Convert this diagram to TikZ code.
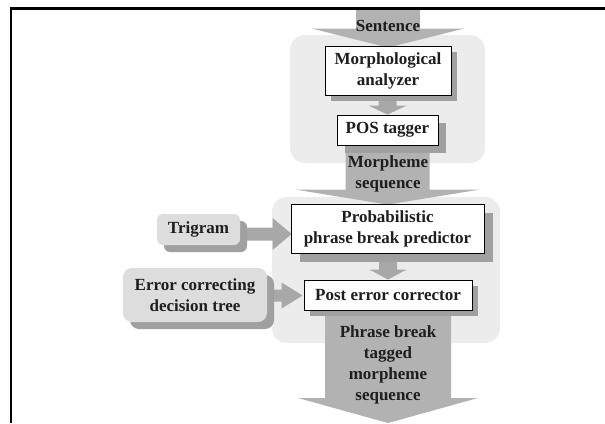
\documentclass[tikz,border=0pt]{standalone}
\usepackage{fontspec}
\setmainfont{Liberation Serif}
\usetikzlibrary{calc,shadows}
\pgfdeclarelayer{bg}
\pgfdeclarelayer{arr}
\pgfsetlayers{bg,arr,main}
\definecolor{regiongray}{HTML}{ECECEC}
\definecolor{biggray}{HTML}{B2B2B2}
\definecolor{smallgray}{HTML}{A8A8A8}
\definecolor{srcgray}{HTML}{DDDDDD}
\definecolor{shadegray}{HTML}{A0A0A0}
\definecolor{inkgray}{HTML}{1E1E1E}
% vertical fat arrow: #1 start, #2 tip, #3 shaft half, #4 head half, #5 head length, #6 style
\newcommand\vfat[6]{%
  \fill[#6] let \p1=(#1), \p2=(#2) in
    (\x2-#3pt,\y1) -- (\x2+#3pt,\y1) -- (\x2+#3pt,\y2+#5pt) -- (\x2+#4pt,\y2+#5pt)
    -- (\x2,\y2) -- (\x2-#4pt,\y2+#5pt) -- (\x2-#3pt,\y2+#5pt) -- cycle;}
% horizontal fat arrow pointing right
\newcommand\hfat[6]{%
  \fill[#6] let \p1=(#1), \p2=(#2) in
    (\x1,\y2-#3pt) -- (\x2-#5pt,\y2-#3pt) -- (\x2-#5pt,\y2-#4pt) -- (\x2,\y2)
    -- (\x2-#5pt,\y2+#4pt) -- (\x2-#5pt,\y2+#3pt) -- (\x1,\y2+#3pt) -- cycle;}
\begin{document}
\begin{tikzpicture}[x=1pt,y=-1pt,
  font=\bfseries\fontsize{17}{21}\selectfont,
  every node/.style={text=inkgray},
  region/.style={fill=regiongray, rounded corners=15pt},
  procbox/.style={draw=black, line width=0.8pt, fill=white, align=center, inner sep=0pt,
    drop shadow={shadow xshift=#1pt, shadow yshift=-#1pt, fill=shadegray, opacity=1}},
  procbox/.default=7,
  srcbox/.style={fill=srcgray, rounded corners=6pt, align=center, inner sep=0pt,
    drop shadow={shadow xshift=7pt, shadow yshift=-7pt, fill=shadegray, opacity=1}},
  flowtext/.style={align=center, inner sep=0pt},
  bigarrow/.style={fill=biggray},
  smallarrow/.style={fill=smallgray}]
\useasboundingbox (0,0) rectangle (605,423);

% frame
\draw[line width=2.6pt] (11,423) -- (11,8.7) -- (605,8.7);

% processing boxes
\node[procbox=6, minimum width=126pt, minimum height=49pt] (morph) at (388,70.5) {Morphological\\analyzer};
\node[procbox=7.5, minimum width=101pt, minimum height=30pt] (pos) at (387.5,130) {POS tagger};
\node[procbox=8.5, minimum width=193pt, minimum height=49pt] (prob) at (387.5,228.5) {Probabilistic\\phrase break predictor};
\node[procbox=5.5, minimum width=168pt, minimum height=30pt] (post) at (388,295) {Post error corrector};

% knowledge sources
\node[srcbox, minimum width=83pt, minimum height=31pt] (tri) at (198.5,229.5) {Trigram};
\node[srcbox, rounded corners=9pt, minimum width=144pt, minimum height=54pt] (ecdt) at (195,295) {Error correcting\\decision tree};

% flow labels
\coordinate (src) at (388,9);
\coordinate (sink) at (388,423);
\node[flowtext, anchor=base] (sent) at (388,31) {Sentence};
\node[flowtext] (morphseq) at (388,174) {Morpheme\\sequence};
\node[flowtext] (result) at (388,364.5) {Phrase break\\tagged\\morpheme\\sequence};

% grey regions
\begin{pgfonlayer}{bg}
  \fill[region] (290,35) rectangle (485,163);
  \fill[region] (272,197) rectangle (500,343);
\end{pgfonlayer}

% arrows
\begin{pgfonlayer}{arr}
  \vfat{src}{$(morph.north)+(0,2)$}{32}{76}{19}{bigarrow}
  \vfat{morph.south}{pos.north}{9}{19}{9}{smallarrow}
  \vfat{pos.south}{$(prob.north)+(0,1)$}{42}{92}{15}{bigarrow}
  \vfat{prob.south}{post.north}{9}{18.5}{10}{smallarrow}
  \vfat{post.south}{sink}{63}{90}{25}{bigarrow}
  \hfat{tri.east}{$(prob.west)+(1,5.5)$}{6.5}{16}{19}{smallarrow}
  \hfat{ecdt.east}{$(post.west)+(-1,0.5)$}{6}{13}{21}{smallarrow}
\end{pgfonlayer}
\end{tikzpicture}
\end{document}
